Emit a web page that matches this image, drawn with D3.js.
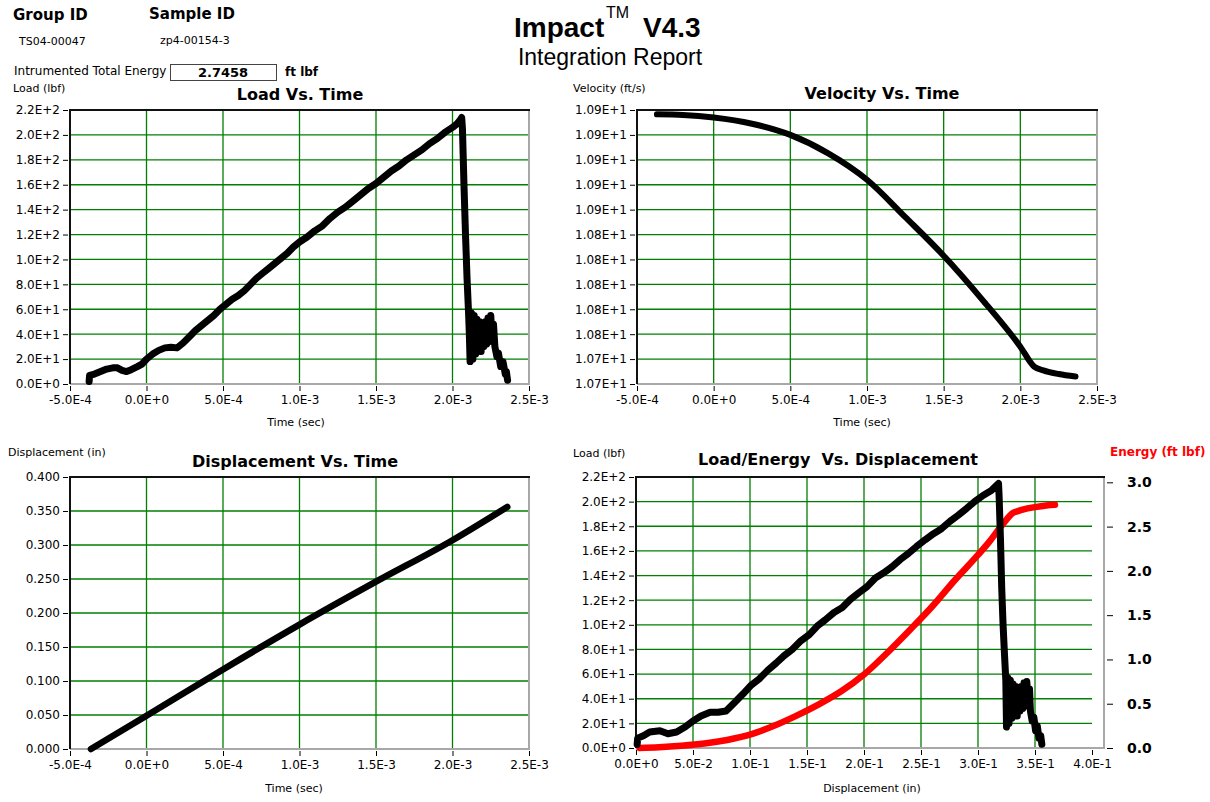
<!DOCTYPE html>
<html><head><meta charset="utf-8">
<script src="https://cdn.jsdelivr.net/npm/d3@7"></script>
<style>
body{margin:0;background:#fff;}
svg{display:block;font-family:"DejaVu Sans",Verdana,sans-serif;}
</style></head><body>
<svg id="c" width="1210" height="802"></svg>
<script>
// ---------------- DATA ----------------
// Load vs Time
const loadTime = [-3.75e-4,-3.72e-4,-3.4e-4,-3.0e-4,-2.6e-4,-2.2e-4,-1.9e-4,-1.6e-4,-1.3e-4,-1.0e-4,-0.6e-4,-0.3e-4,0,
  0.4e-4,0.8e-4,1.2e-4,1.6e-4,2.0e-4,2.4e-4,2.8e-4,3.2e-4,3.6e-4,4.0e-4,4.4e-4,4.8e-4,5.2e-4,5.6e-4,6.0e-4,6.4e-4,
  6.8e-4,7.2e-4,7.6e-4,8.0e-4,8.4e-4,8.8e-4,9.2e-4,9.6e-4,1.0e-3,1.05e-3,1.1e-3,1.15e-3,1.2e-3,1.25e-3,1.3e-3,1.35e-3,
  1.4e-3,1.45e-3,1.5e-3,1.55e-3,1.6e-3,1.65e-3,1.7e-3,1.75e-3,1.8e-3,1.85e-3,1.9e-3,1.95e-3,2.0e-3,2.03e-3,2.05e-3,
  2.06e-3,2.065e-3,2.075e-3,2.085e-3,2.095e-3,2.105e-3,2.11e-3,2.115e-3,
  2.124e-3,2.133e-3,2.142e-3,2.151e-3,2.160e-3,2.169e-3,2.178e-3,2.187e-3,2.196e-3,2.205e-3,2.214e-3,2.223e-3,
  2.232e-3,2.241e-3,2.250e-3,2.259e-3,2.268e-3,2.277e-3,2.29e-3,2.30e-3,2.315e-3,2.33e-3,2.345e-3,2.352e-3,2.36e-3];
const loadLbf = [2,7,8,10,12,13,13,11,10,11.5,14,16,20,
  24,27,29,29.5,29,33,38,43,47,51,55,60,64,68,71,75,
  80,85,89,93,97,101,105,110,114,118,123,127,133,138,142,147,
  152,157,161,166,171,175,180,184,188,193,197,202,206,209,212,
  214,205,160,120,85,57,40,18,
  57,20,55,24,52,27,50,26,48,30,50,
  32,53,34,55,36,48,30,22,25,14,18,8,10,3];

// Velocity vs Time
const velTime = [-3.7e-4,-2e-4,0,2.5e-4,5e-4,7.5e-4,1.0e-3,1.25e-3,1.5e-3,1.75e-3,2.0e-3,2.09e-3,2.15e-3,2.25e-3,2.36e-3];
const velFtps = [10.9365,10.936,10.934,10.929,10.920,10.905,10.884,10.854,10.823,10.788,10.750,10.734,10.731,10.728,10.726];

// Displacement vs Time
const dispTime = [-3.63e-4,0,5e-4,1e-3,1.5e-3,2e-3,2.358e-3];
const dispIn = [0,0.049,0.117,0.183,0.246,0.307,0.356];

// Load vs Displacement
const ldDisp = [0.001,0.0015,0.0065,0.012,0.021,0.028,0.0356,0.043,0.050,0.057,0.065,0.072,0.079,0.0865,0.094,0.101,
  0.108,0.1155,0.123,0.130,0.137,0.1446,0.152,0.159,0.166,0.1737,0.181,0.188,0.1955,0.2027,0.210,0.217,0.2245,0.2318,
  0.239,0.246,0.2536,0.261,0.268,0.2754,0.2826,0.290,0.297,0.3044,0.3117,0.315,0.318,0.3185,0.3197,0.3208,0.322,0.3233,
  0.3244,0.325,0.3262,0.3272,0.3284,0.3296,0.3308,0.3320,0.3332,0.3344,0.3356,0.3368,0.3380,0.3392,0.3404,0.3416,
  0.3428,0.3440,0.3452,0.3460,0.3475,0.3490,0.3505,0.3520,0.3535,0.3550,0.3560];
const ldLoad = [3,8,10,13,14,11.6,13,17,22,26,29,29,30,37,44,51,
  56,63,69,75,80,87,92,99,104,110,114,120.5,126,131,138,142,147,153,
  158,163.5,169,174,178,184,189,194.5,200,205,209,212,214.7,205,170,130,100,75,
  55,17,57,20,55,24,52,27,50,26,48,30,50,32,53,34,
  54,36,48,30,22,25,14,18,8,10,3];

// Energy vs Displacement
const enDisp = [0.003,0.02,0.04,0.06,0.08,0.10,0.12,0.14,0.16,0.18,0.20,0.22,0.24,0.26,0.28,0.30,0.31,0.32,0.325,0.33,0.335,0.34,0.35,0.36,0.3675];
const enFtlbf = [0.0,0.008,0.025,0.05,0.09,0.15,0.245,0.36,0.49,0.64,0.83,1.07,1.33,1.60,1.90,2.18,2.33,2.50,2.58,2.65,2.675,2.695,2.72,2.738,2.7458];

// Ticks
const timeTicks = [-5e-4,0,5e-4,1e-3,1.5e-3,2e-3,2.5e-3];
const loadTicks = [0,20,40,60,80,100,120,140,160,180,200,220];
const velTicks = [10.72,10.74,10.76,10.78,10.80,10.82,10.84,10.86,10.88,10.90,10.92,10.94];
const dispTicks = [0,0.05,0.1,0.15,0.2,0.25,0.3,0.35,0.4];
const ldDispTicks = [0,0.05,0.1,0.15,0.2,0.25,0.3,0.35,0.4];
const energyTicks = [0,0.5,1.0,1.5,2.0,2.5,3.0];

// Header values
const groupId = "TS04-00047";
const sampleId = "zp4-00154-3";
const totalEnergy = "2.7458";

// ---------------- DRAW ----------------
const svg = d3.select("#c");
svg.append("rect").attr("width",1210).attr("height",802).attr("fill","#fff");

const fixMinus = s => s.replace(/\u2212/g,"-");
const sci1 = v => fixMinus(d3.format(".1e")(v)).toUpperCase();
const sci2 = v => fixMinus(d3.format(".2e")(v)).toUpperCase();

function txt(x,y,s,opts={}){
  const t = svg.append("text").attr("x",x).attr("y",y).text(s)
    .attr("font-size",opts.size||11).attr("fill",opts.color||"#000");
  if(opts.bold) t.attr("font-weight","bold");
  if(opts.anchor) t.attr("text-anchor",opts.anchor);
  if(opts.family) t.attr("font-family",opts.family);
  if(opts.pre) t.style("white-space","pre");
  return t;
}

function panel(o){
  const g = svg.append("g");
  const x = d3.scaleLinear().domain(o.xDomain).range([o.x0,o.x1]);
  const y = d3.scaleLinear().domain(o.yDomain).range([o.y1,o.y0]);
  const fr = o.frameRight || o.x1;
  g.append("rect").attr("x",o.x0).attr("y",o.y0).attr("width",fr-o.x0).attr("height",o.y1-o.y0).attr("fill","#fff");
  const grid = g.append("g").attr("stroke","#007f00").attr("stroke-width",1.3);
  o.xTicks.filter(v=>x(v)>o.x0+1 && x(v)<o.x1-1).forEach(v=>{
    grid.append("line").attr("x1",x(v)).attr("x2",x(v)).attr("y1",o.y0).attr("y2",o.y1);
  });
  o.yTicks.filter(v=>y(v)>o.y0+1 && y(v)<o.y1-1).forEach(v=>{
    grid.append("line").attr("x1",o.x0).attr("x2",o.x1).attr("y1",y(v)).attr("y2",y(v));
  });
  g.append("line").attr("x1",fr).attr("x2",fr).attr("y1",o.y0).attr("y2",o.y1+1).attr("stroke","#a8a8a8").attr("stroke-width",2);
  g.append("line").attr("x1",o.x0).attr("x2",fr+1).attr("y1",o.y1).attr("y2",o.y1).attr("stroke","#a8a8a8").attr("stroke-width",2);
  g.append("line").attr("x1",o.x0-1).attr("x2",fr+1).attr("y1",o.y0).attr("y2",o.y0).attr("stroke","#111").attr("stroke-width",2);
  g.append("line").attr("x1",o.x0).attr("x2",o.x0).attr("y1",o.y0-1).attr("y2",o.y1).attr("stroke","#111").attr("stroke-width",2);
  const ya = g.append("g").attr("transform",`translate(${o.x0-2},0)`)
    .call(d3.axisLeft(y).tickValues(o.yTicks).tickFormat(o.yFormat).tickSize(5).tickPadding(3));
  const xa = g.append("g").attr("transform",`translate(0,${o.y1+2})`)
    .call(d3.axisBottom(x).tickValues(o.xTicks).tickFormat(o.xFormat).tickSize(5).tickPadding(4));
  [ya,xa].forEach(a=>{
    a.select(".domain").remove();
    a.selectAll("line").attr("stroke","#000");
    a.selectAll("text").attr("font-size",12).attr("font-family","DejaVu Sans").attr("fill","#000");
  });
  return {g,x,y};
}

function series(p,xs,ys,color,w,yScale,curve){
  const ysc = yScale || p.y;
  const line = d3.line().x(i=>p.x(xs[i])).y(i=>ysc(ys[i]));
  if(curve) line.curve(curve);
  p.g.append("path")
    .attr("d", line(d3.range(xs.length)))
    .attr("fill","none").attr("stroke",color).attr("stroke-width",w)
    .attr("stroke-linejoin","round").attr("stroke-linecap","round");
}

// Header
txt(13,20,"Group ID",{size:15,bold:true});
txt(149,19,"Sample ID",{size:15,bold:true});
txt(19,45,groupId,{size:11});
txt(160,44,sampleId,{size:11});
txt(14,75,"Intrumented Total Energy",{size:12});
svg.append("rect").attr("x",170.5).attr("y",64.5).attr("width",106).attr("height",16)
  .attr("fill","#fff").attr("stroke","#444").attr("stroke-width",1);
txt(223,77,totalEnergy,{size:13,bold:true,anchor:"middle"});
txt(285,76,"ft lbf",{size:12,bold:true});
txt(514,37,"Impact",{size:28,bold:true,family:"Liberation Sans"});
txt(606,18,"TM",{size:16,family:"Liberation Sans"});
txt(643,37,"V4.3",{size:28,bold:true,family:"Liberation Sans"});
txt(610,65,"Integration Report",{size:23,anchor:"middle",family:"Liberation Sans"});

// Panel 1: Load vs Time
const p1 = panel({x0:70,x1:529,y0:110,y1:384,xDomain:[-5e-4,2.5e-3],yDomain:[0,220],
  xTicks:timeTicks,yTicks:loadTicks,xFormat:sci1,yFormat:sci1});
series(p1,loadTime,loadLbf,"#000",7);
txt(13,92,"Load (lbf)",{size:11});
txt(300,100,"Load Vs. Time",{size:16,bold:true,anchor:"middle"});
txt(296,426,"Time (sec)",{size:11,anchor:"middle"});

// Panel 2: Velocity vs Time
const p2 = panel({x0:637,x1:1097,y0:110,y1:384,xDomain:[-5e-4,2.5e-3],yDomain:[10.72,10.94],
  xTicks:timeTicks,yTicks:velTicks,xFormat:sci1,yFormat:sci2});
series(p2,velTime,velFtps,"#000",6,null,d3.curveMonotoneX);
txt(573,92,"Velocity (ft/s)",{size:11});
txt(882,99,"Velocity Vs. Time",{size:16,bold:true,anchor:"middle"});
txt(862,426,"Time (sec)",{size:11,anchor:"middle"});

// Panel 3: Displacement vs Time
const p3 = panel({x0:70,x1:529,y0:477,y1:749,xDomain:[-5e-4,2.5e-3],yDomain:[0,0.4],
  xTicks:timeTicks,yTicks:dispTicks,xFormat:sci1,yFormat:d3.format(".3f")});
series(p3,dispTime,dispIn,"#000",6.5,null,d3.curveMonotoneX);
txt(8,456,"Displacement (in)",{size:11});
txt(295,467,"Displacement Vs. Time",{size:16,bold:true,anchor:"middle"});
txt(294,792,"Time (sec)",{size:11,anchor:"middle"});

// Panel 4: Load/Energy vs Displacement
const p4 = panel({x0:636,x1:1092,frameRight:1104,y0:477,y1:748,xDomain:[0,0.4],yDomain:[0,220],
  xTicks:ldDispTicks,yTicks:loadTicks,xFormat:sci1,yFormat:sci1});
const yE = d3.scaleLinear().domain([0,3.06]).range([748,477]);
const ea = p4.g.append("g").attr("transform","translate(1107,0)")
  .call(d3.axisRight(yE).tickValues(energyTicks).tickFormat(d3.format(".1f")).tickSize(6).tickPadding(14));
ea.select(".domain").remove();
ea.selectAll("line").attr("stroke","#000");
ea.selectAll("text").attr("font-size",14).attr("font-weight","bold").attr("font-family","DejaVu Sans");
series(p4,enDisp,enFtlbf,"#ff0000",6.5,yE,d3.curveMonotoneX);
series(p4,ldDisp,ldLoad,"#000",7);
txt(573,457,"Load (lbf)",{size:11});
txt(838,465,"Load/Energy  Vs. Displacement",{size:16,bold:true,anchor:"middle",pre:true});
txt(1110,456,"Energy (ft lbf)",{size:12,bold:true,color:"#ff0000"});
txt(872,792,"Displacement (in)",{size:11,anchor:"middle"});
</script>
</body></html>
